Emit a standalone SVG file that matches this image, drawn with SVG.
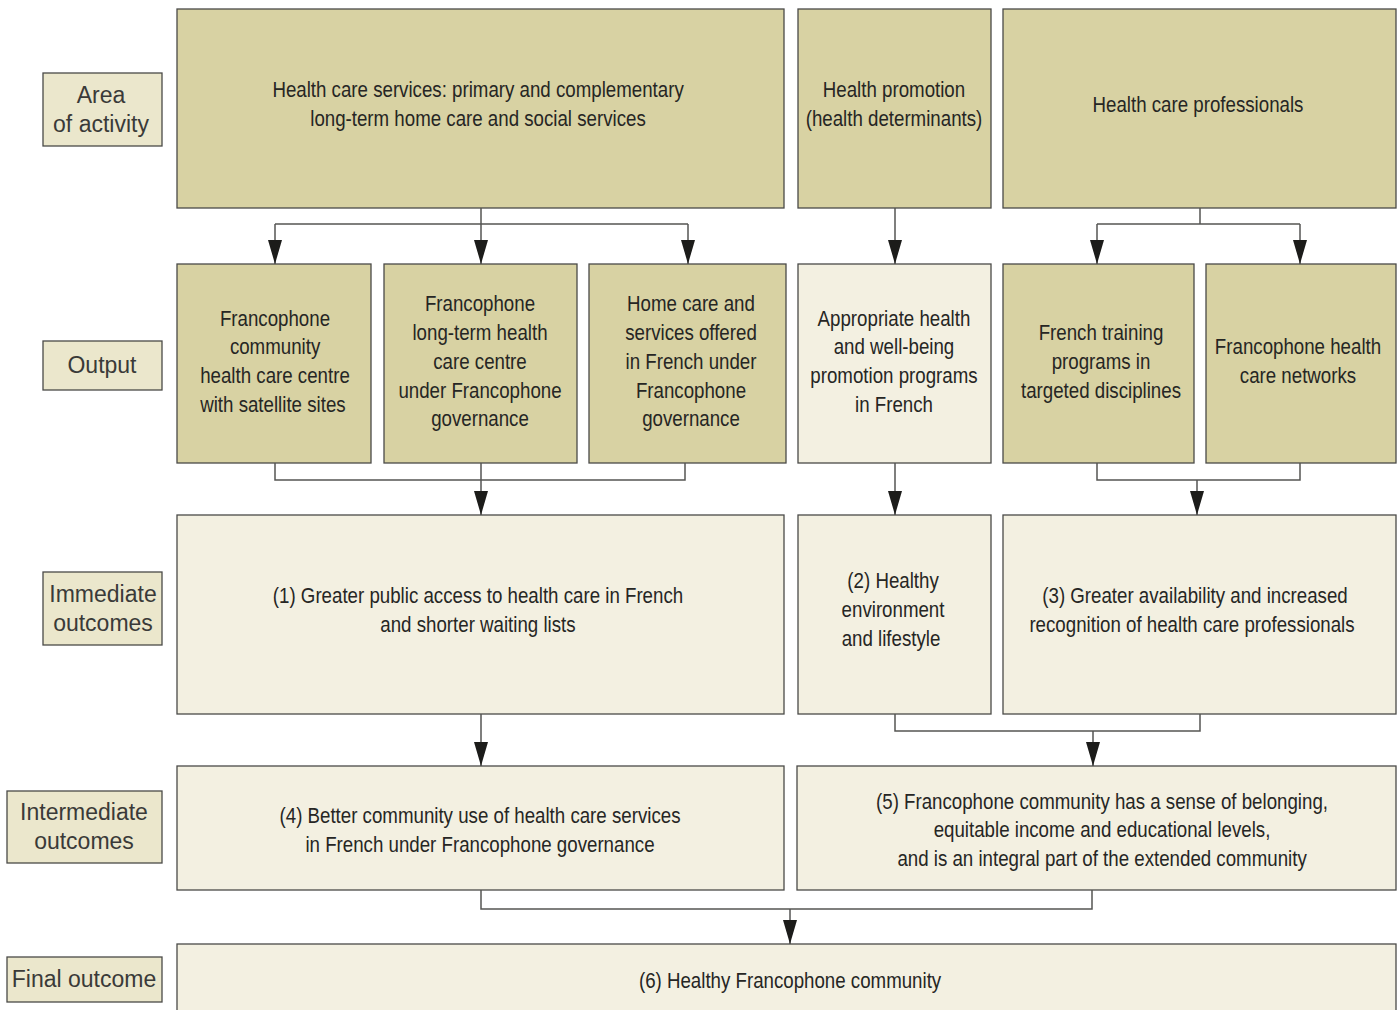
<svg xmlns="http://www.w3.org/2000/svg" width="1398" height="1010" viewBox="0 0 1398 1010">
  <style>
    .dark { fill: #d8d2a3; stroke: #4a4a48; stroke-width: 1.3; }
    .light { fill: #f3f0e1; stroke: #4a4a48; stroke-width: 1.3; }
    .tag { fill: #ebe7cc; stroke: #4a4a48; stroke-width: 1.3; }
    /* condensed body text: Liberation Sans squeezed horizontally about each line's centre */
    .t { font-family: "Liberation Sans", Arial, sans-serif; font-size: 22px; fill: #262624; text-anchor: middle;
         transform-box: fill-box; transform-origin: center; transform: scaleX(0.85); }
    .lt { font-family: "Liberation Sans", Arial, sans-serif; font-size: 23px; fill: #3a3a38; text-anchor: middle; }
    .wire { fill: none; stroke: #555553; stroke-width: 1.5; }
  </style>
  <defs>
    <marker id="arrow" viewBox="0 0 24 14" refX="24" refY="7" markerWidth="24" markerHeight="14" markerUnits="userSpaceOnUse" orient="auto">
      <path d="M0,0 L24,7 L0,14 z" fill="#1c1c1a"/>
    </marker>
  </defs>
  <rect width="1398" height="1010" fill="#ffffff"/>

  <!-- Row labels -->
  <g id="label-area">
    <rect class="tag" x="43" y="73" width="119" height="73"/>
    <text class="lt" x="101" y="103">Area</text>
    <text class="lt" x="101" y="132">of activity</text>
  </g>
  <g id="label-output">
    <rect class="tag" x="43" y="341" width="119" height="49"/>
    <text class="lt" x="102" y="373">Output</text>
  </g>
  <g id="label-immediate">
    <rect class="tag" x="43" y="572" width="119" height="73"/>
    <text class="lt" x="103" y="602">Immediate</text>
    <text class="lt" x="103" y="631">outcomes</text>
  </g>
  <g id="label-intermediate">
    <rect class="tag" x="7" y="791" width="155" height="72"/>
    <text class="lt" x="84" y="820">Intermediate</text>
    <text class="lt" x="84" y="849">outcomes</text>
  </g>
  <g id="label-final">
    <rect class="tag" x="7" y="957" width="155" height="45"/>
    <text class="lt" x="84" y="987">Final outcome</text>
  </g>

  <!-- Area of activity -->
  <g id="area-services">
    <rect class="dark" x="177" y="9" width="607" height="199"/>
    <text class="t" x="478" y="97">Health care services: primary and complementary</text>
    <text class="t" x="478" y="126">long-term home care and social services</text>
  </g>
  <g id="area-promotion">
    <rect class="dark" x="798" y="9" width="193" height="199"/>
    <text class="t" x="894" y="97">Health promotion</text>
    <text class="t" x="894" y="126">(health determinants)</text>
  </g>
  <g id="area-professionals">
    <rect class="dark" x="1003" y="9" width="393" height="199"/>
    <text class="t" x="1198" y="112">Health care professionals</text>
  </g>

  <!-- Outputs -->
  <g id="out-chc">
    <rect class="dark" x="177" y="264" width="194" height="199"/>
    <text class="t" x="275" y="326">Francophone</text>
    <text class="t" x="275" y="354">community</text>
    <text class="t" x="275" y="383">health care centre</text>
    <text class="t" x="273" y="412">with satellite sites</text>
  </g>
  <g id="out-ltc">
    <rect class="dark" x="384" y="264" width="193" height="199"/>
    <text class="t" x="480" y="311">Francophone</text>
    <text class="t" x="480" y="340">long-term health</text>
    <text class="t" x="480" y="369">care centre</text>
    <text class="t" x="480" y="398">under Francophone</text>
    <text class="t" x="480" y="426">governance</text>
  </g>
  <g id="out-home">
    <rect class="dark" x="589" y="264" width="197" height="199"/>
    <text class="t" x="691" y="311">Home care and</text>
    <text class="t" x="691" y="340">services offered</text>
    <text class="t" x="691" y="369">in French under</text>
    <text class="t" x="691" y="398">Francophone</text>
    <text class="t" x="691" y="426">governance</text>
  </g>
  <g id="out-promo">
    <rect class="light" x="798" y="264" width="193" height="199"/>
    <text class="t" x="894" y="326">Appropriate health</text>
    <text class="t" x="894" y="354">and well-being</text>
    <text class="t" x="894" y="383">promotion programs</text>
    <text class="t" x="894" y="412">in French</text>
  </g>
  <g id="out-training">
    <rect class="dark" x="1003" y="264" width="191" height="199"/>
    <text class="t" x="1101" y="340">French training</text>
    <text class="t" x="1101" y="369">programs in</text>
    <text class="t" x="1101" y="398">targeted disciplines</text>
  </g>
  <g id="out-networks">
    <rect class="dark" x="1206" y="264" width="190" height="199"/>
    <text class="t" x="1298" y="354">Francophone health</text>
    <text class="t" x="1298" y="383">care networks</text>
  </g>

  <!-- Immediate outcomes -->
  <g id="imm-1">
    <rect class="light" x="177" y="515" width="607" height="199"/>
    <text class="t" x="478" y="603">(1) Greater public access to health care in French</text>
    <text class="t" x="478" y="632">and shorter waiting lists</text>
  </g>
  <g id="imm-2">
    <rect class="light" x="798" y="515" width="193" height="199"/>
    <text class="t" x="893" y="588">(2) Healthy</text>
    <text class="t" x="893" y="617">environment</text>
    <text class="t" x="891" y="646">and lifestyle</text>
  </g>
  <g id="imm-3">
    <rect class="light" x="1003" y="515" width="393" height="199"/>
    <text class="t" x="1195" y="603">(3) Greater availability and increased</text>
    <text class="t" x="1192" y="632">recognition of health care professionals</text>
  </g>

  <!-- Intermediate outcomes -->
  <g id="int-4">
    <rect class="light" x="177" y="766" width="607" height="124"/>
    <text class="t" x="480" y="823">(4) Better community use of health care services</text>
    <text class="t" x="480" y="852">in French under Francophone governance</text>
  </g>
  <g id="int-5">
    <rect class="light" x="797" y="766" width="599" height="124"/>
    <text class="t" x="1102" y="809">(5) Francophone community has a sense of belonging,</text>
    <text class="t" x="1102" y="837">equitable income and educational levels,</text>
    <text class="t" x="1102" y="866">and is an integral part of the extended community</text>
  </g>

  <!-- Final outcome -->
  <g id="final-6">
    <rect class="light" x="177" y="944" width="1219" height="90"/>
    <text class="t" x="790" y="988">(6) Healthy Francophone community</text>
  </g>

  <!-- Connectors -->
  <g id="connectors">
    <path class="wire" d="M481,208 V224 M275,224 H688"/>
    <path class="wire" d="M275,224 V264" marker-end="url(#arrow)"/>
    <path class="wire" d="M481,224 V264" marker-end="url(#arrow)"/>
    <path class="wire" d="M688,224 V264" marker-end="url(#arrow)"/>
    <path class="wire" d="M895,208 V264" marker-end="url(#arrow)"/>
    <path class="wire" d="M1200,208 V224 M1097,224 H1300"/>
    <path class="wire" d="M1097,224 V264" marker-end="url(#arrow)"/>
    <path class="wire" d="M1300,224 V264" marker-end="url(#arrow)"/>

    <path class="wire" d="M275,463 V480 H685 V463"/>
    <path class="wire" d="M481,463 V515" marker-end="url(#arrow)"/>
    <path class="wire" d="M895,463 V515" marker-end="url(#arrow)"/>
    <path class="wire" d="M1097,463 V480 H1300 V463"/>
    <path class="wire" d="M1197,480 V515" marker-end="url(#arrow)"/>

    <path class="wire" d="M481,714 V766" marker-end="url(#arrow)"/>
    <path class="wire" d="M895,714 V731 H1200 V714"/>
    <path class="wire" d="M1093,731 V766" marker-end="url(#arrow)"/>

    <path class="wire" d="M481,890 V909 H1092 V890"/>
    <path class="wire" d="M790,909 V944" marker-end="url(#arrow)"/>
  </g>
</svg>
